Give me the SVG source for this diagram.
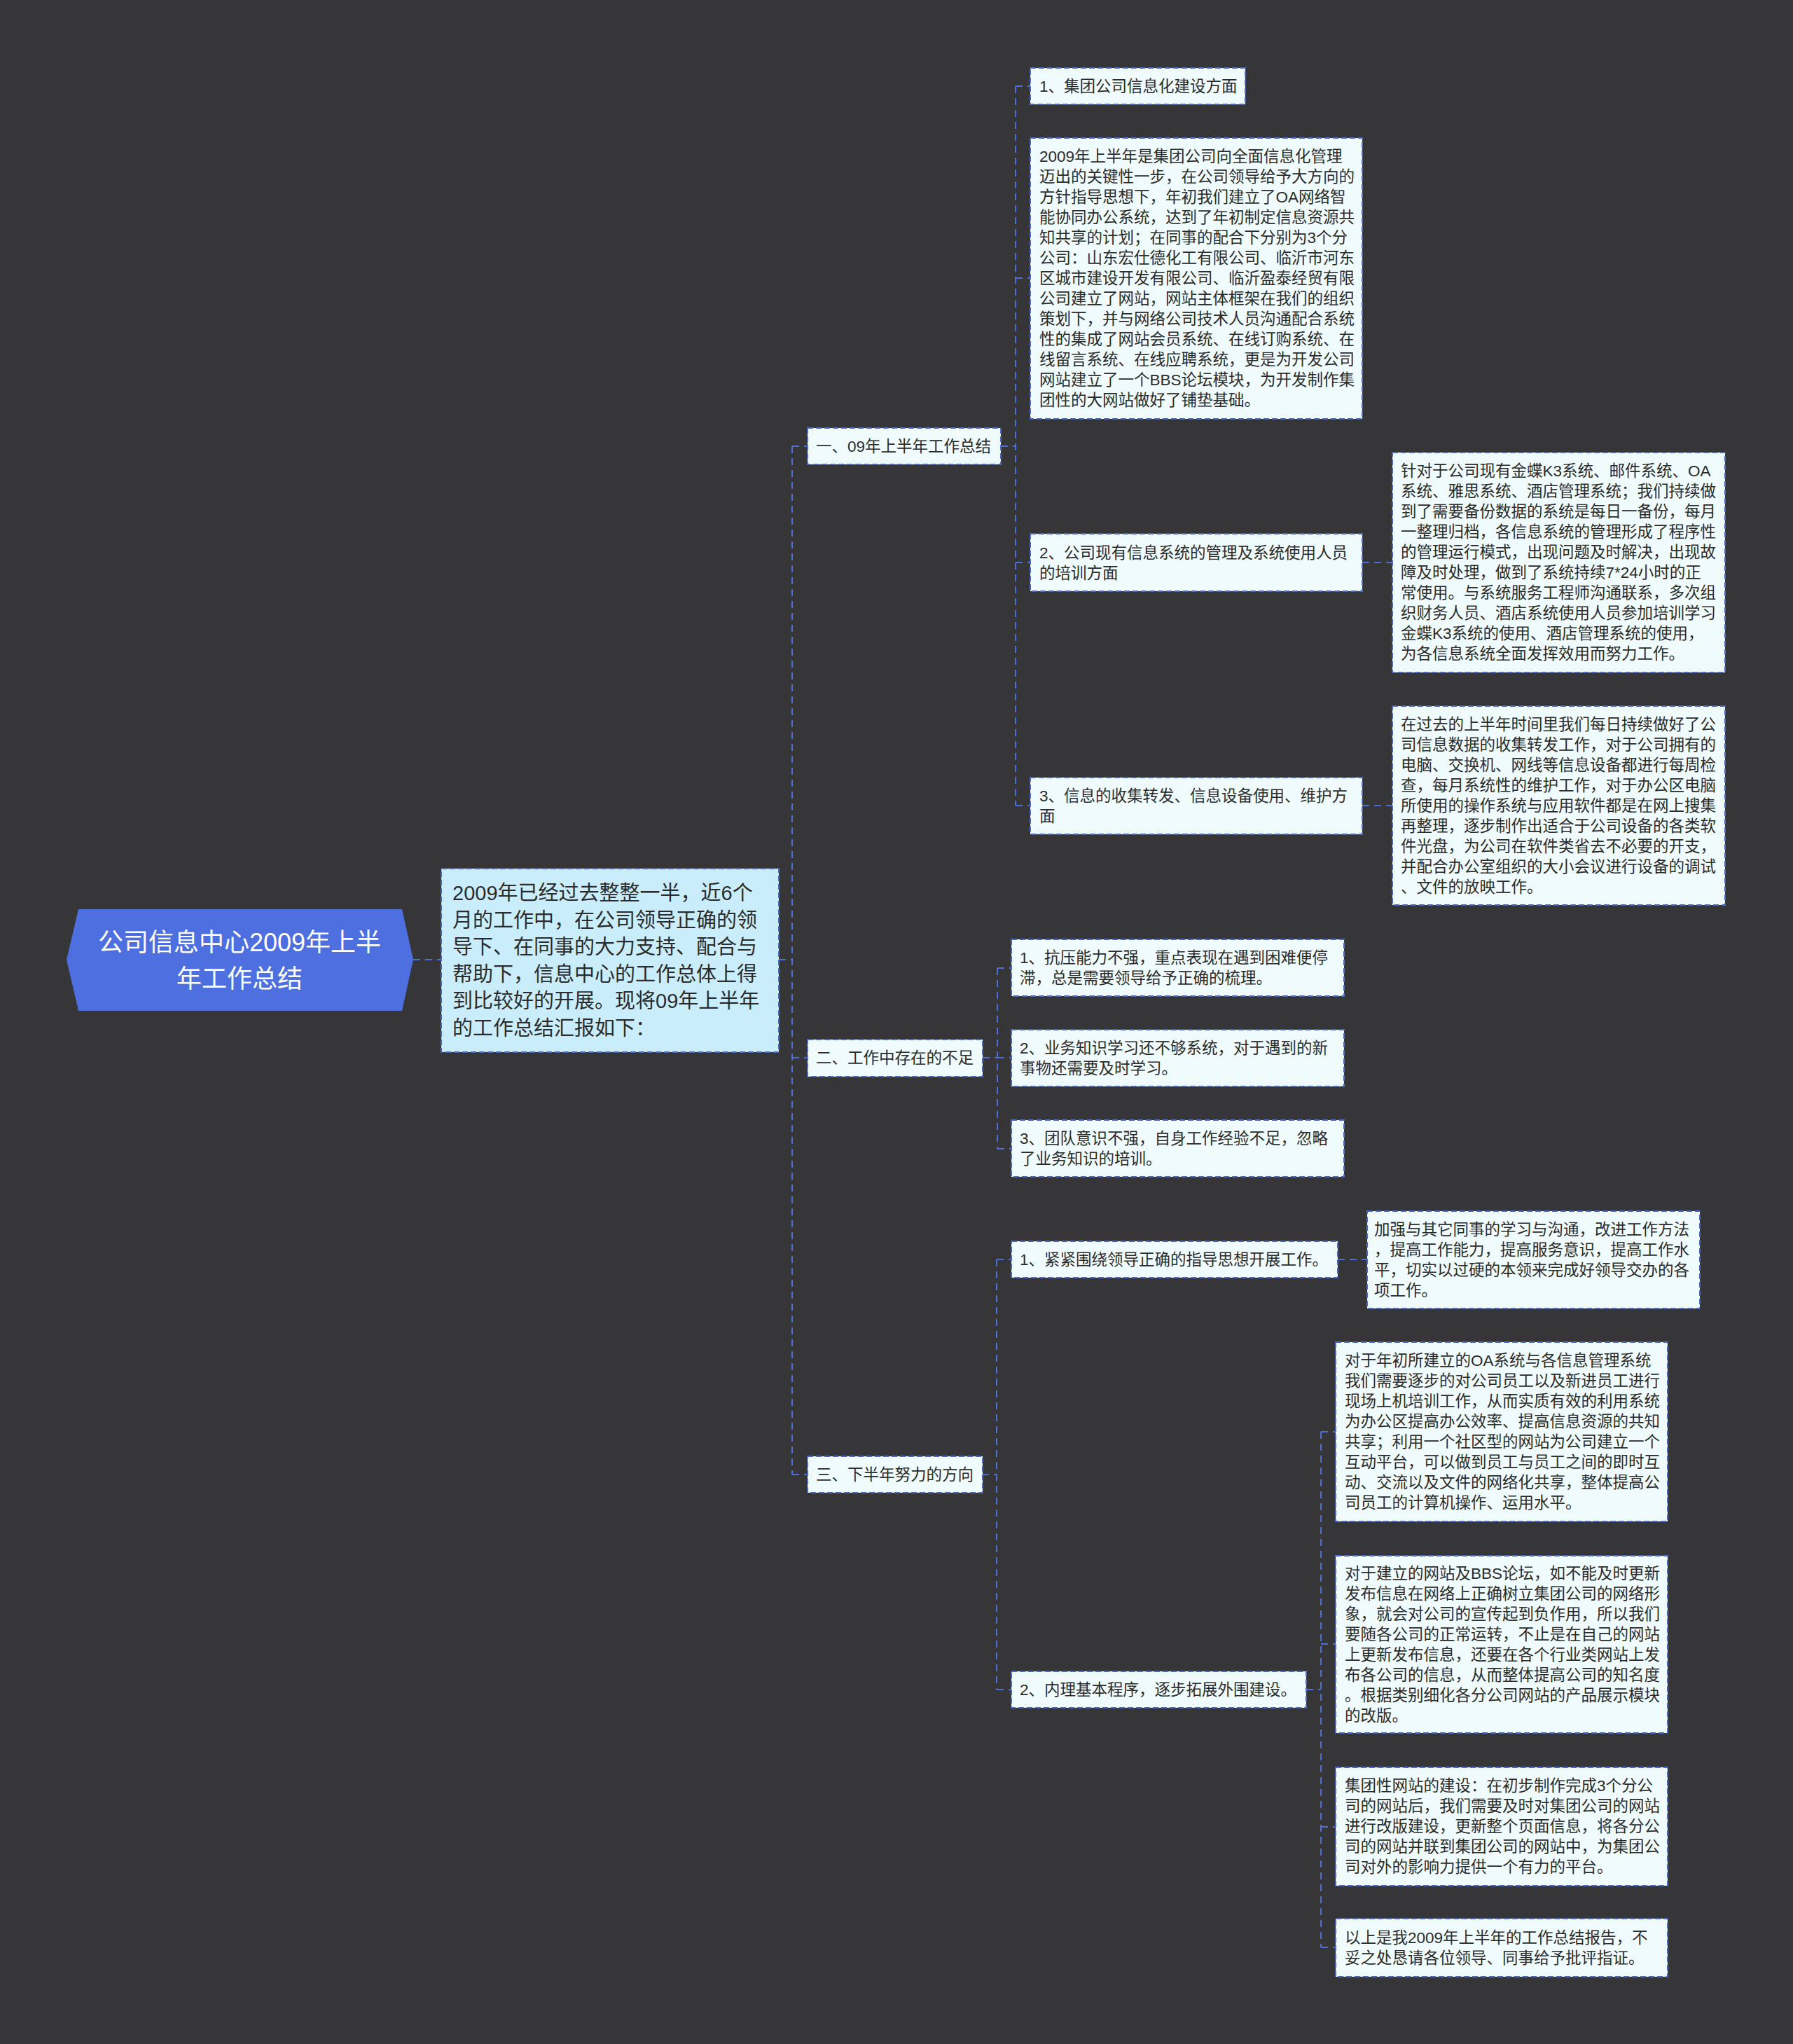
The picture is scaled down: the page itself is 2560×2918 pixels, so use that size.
<svg xmlns="http://www.w3.org/2000/svg" width="2560" height="2918" viewBox="0 0 2560 2918">
<style>
.bg{fill:#363538}
.root{fill:#4e6fe0}
.rt{font-family:"Liberation Sans","Noto Sans CJK SC",sans-serif;font-size:36px;fill:#ffffff;text-anchor:middle;dominant-baseline:central}
.intro{fill:#c9edfb;stroke:#4a68c4;stroke-width:2;stroke-dasharray:8 4}
.it{font-family:"Liberation Sans","Noto Sans CJK SC",sans-serif;font-size:29px;fill:#2b2b2b;dominant-baseline:central}
.box{fill:#effbfc;stroke:#4a68c4;stroke-width:2;stroke-dasharray:8 4}
.t{font-family:"Liberation Sans","Noto Sans CJK SC",sans-serif;font-size:22.5px;fill:#2b2b2b;dominant-baseline:central}
.c{fill:none;stroke:#4d6fd6;stroke-width:2;stroke-dasharray:10 7}
</style>
<rect class="bg" x="0" y="0" width="2560" height="2918"/>
<g id="connectors">
<path class="c" d="M590,1370 H630"/>
<path class="c" d="M1112,1370 H1131"/>
<path class="c" d="M1131,637 V2105"/>
<path class="c" d="M1131,637 H1153 M1131,1510 H1153 M1131,2105 H1153"/>
<path class="c" d="M1429,637 H1450 M1450,123 V1150 M1450,123 H1471 M1450,397 H1471 M1450,803 H1471 M1450,1150 H1471"/>
<path class="c" d="M1945,803 H1988 M1945,1150 H1988"/>
<path class="c" d="M1403,1510 H1424 M1424,1382 V1640 M1424,1382 H1444 M1424,1510 H1444 M1424,1640 H1444"/>
<path class="c" d="M1402,2105 H1423 M1423,1798 V2412 M1423,1798 H1444 M1423,2412 H1444"/>
<path class="c" d="M1910,1798 H1952"/>
<path class="c" d="M1865,2412 H1886 M1886,2044 V2780 M1886,2044 H1907 M1886,2347 H1907 M1886,2608 H1907 M1886,2780 H1907"/>
</g>
<g id="root">
<polygon class="root" points="95,1370 112,1298 574,1298 590,1370 574,1443 112,1443"/>
<text class="rt" x="342" y="1345">公司信息中心2009年上半</text>
<text class="rt" x="342" y="1397">年工作总结</text>
</g>
<g id="intro">
<rect class="intro" x="630" y="1240" width="482" height="262"/>
<text class="it" x="646" y="1275">2009年已经过去整整一半，近6个</text>
<text class="it" x="646" y="1313.6">月的工作中，在公司领导正确的领</text>
<text class="it" x="646" y="1352.2">导下、在同事的大力支持、配合与</text>
<text class="it" x="646" y="1390.8">帮助下，信息中心的工作总体上得</text>
<text class="it" x="646" y="1429.4">到比较好的开展。现将09年上半年</text>
<text class="it" x="646" y="1468">的工作总结汇报如下：</text>
</g>
<g id="n1">
<rect class="box" x="1153" y="611" width="276" height="52"/>
<text class="t" x="1165" y="637">一、09年上半年工作总结</text>
</g>
<g id="n1-1">
<rect class="box" x="1471" y="97" width="307" height="52"/>
<text class="t" x="1484" y="123">1、集团公司信息化建设方面</text>
</g>
<g id="n1-1-text">
<rect class="box" x="1471" y="197" width="474" height="401"/>
<text class="t" x="1484" y="223.5">2009年上半年是集团公司向全面信息化管理</text>
<text class="t" x="1484" y="252.5">迈出的关键性一步，在公司领导给予大方向的</text>
<text class="t" x="1484" y="281.5">方针指导思想下，年初我们建立了OA网络智</text>
<text class="t" x="1484" y="310.5">能协同办公系统，达到了年初制定信息资源共</text>
<text class="t" x="1484" y="339.5">知共享的计划；在同事的配合下分别为3个分</text>
<text class="t" x="1484" y="368.5">公司：山东宏仕德化工有限公司、临沂市河东</text>
<text class="t" x="1484" y="397.5">区城市建设开发有限公司、临沂盈泰经贸有限</text>
<text class="t" x="1484" y="426.5">公司建立了网站，网站主体框架在我们的组织</text>
<text class="t" x="1484" y="455.5">策划下，并与网络公司技术人员沟通配合系统</text>
<text class="t" x="1484" y="484.5">性的集成了网站会员系统、在线订购系统、在</text>
<text class="t" x="1484" y="513.5">线留言系统、在线应聘系统，更是为开发公司</text>
<text class="t" x="1484" y="542.5">网站建立了一个BBS论坛模块，为开发制作集</text>
<text class="t" x="1484" y="571.5">团性的大网站做好了铺垫基础。</text>
</g>
<g id="n1-2">
<rect class="box" x="1471" y="762" width="474" height="82"/>
<text class="t" x="1484" y="789">2、公司现有信息系统的管理及系统使用人员</text>
<text class="t" x="1484" y="818">的培训方面</text>
</g>
<g id="n1-2-text">
<rect class="box" x="1988" y="646" width="475" height="314"/>
<text class="t" x="2000" y="672.5">针对于公司现有金蝶K3系统、邮件系统、OA</text>
<text class="t" x="2000" y="701.5">系统、雅思系统、酒店管理系统；我们持续做</text>
<text class="t" x="2000" y="730.5">到了需要备份数据的系统是每日一备份，每月</text>
<text class="t" x="2000" y="759.5">一整理归档，各信息系统的管理形成了程序性</text>
<text class="t" x="2000" y="788.5">的管理运行模式，出现问题及时解决，出现故</text>
<text class="t" x="2000" y="817.5">障及时处理，做到了系统持续7*24小时的正</text>
<text class="t" x="2000" y="846.5">常使用。与系统服务工程师沟通联系，多次组</text>
<text class="t" x="2000" y="875.5">织财务人员、酒店系统使用人员参加培训学习</text>
<text class="t" x="2000" y="904.5">金蝶K3系统的使用、酒店管理系统的使用，</text>
<text class="t" x="2000" y="933.5">为各信息系统全面发挥效用而努力工作。</text>
</g>
<g id="n1-3">
<rect class="box" x="1471" y="1110" width="474" height="81"/>
<text class="t" x="1484" y="1136">3、信息的收集转发、信息设备使用、维护方</text>
<text class="t" x="1484" y="1165">面</text>
</g>
<g id="n1-3-text">
<rect class="box" x="1988" y="1008" width="475" height="284"/>
<text class="t" x="2000" y="1034">在过去的上半年时间里我们每日持续做好了公</text>
<text class="t" x="2000" y="1063">司信息数据的收集转发工作，对于公司拥有的</text>
<text class="t" x="2000" y="1092">电脑、交换机、网线等信息设备都进行每周检</text>
<text class="t" x="2000" y="1121">查，每月系统性的维护工作，对于办公区电脑</text>
<text class="t" x="2000" y="1150">所使用的操作系统与应用软件都是在网上搜集</text>
<text class="t" x="2000" y="1179">再整理，逐步制作出适合于公司设备的各类软</text>
<text class="t" x="2000" y="1208">件光盘，为公司在软件类省去不必要的开支，</text>
<text class="t" x="2000" y="1237">并配合办公室组织的大小会议进行设备的调试</text>
<text class="t" x="2000" y="1266">、文件的放映工作。</text>
</g>
<g id="n2">
<rect class="box" x="1153" y="1484" width="250" height="53"/>
<text class="t" x="1165" y="1510">二、工作中存在的不足</text>
</g>
<g id="n2-1">
<rect class="box" x="1444" y="1341" width="475" height="81"/>
<text class="t" x="1456" y="1367.5">1、抗压能力不强，重点表现在遇到困难便停</text>
<text class="t" x="1456" y="1396.5">滞，总是需要领导给予正确的梳理。</text>
</g>
<g id="n2-2">
<rect class="box" x="1444" y="1470" width="475" height="81"/>
<text class="t" x="1456" y="1496">2、业务知识学习还不够系统，对于遇到的新</text>
<text class="t" x="1456" y="1525">事物还需要及时学习。</text>
</g>
<g id="n2-3">
<rect class="box" x="1444" y="1599" width="475" height="81"/>
<text class="t" x="1456" y="1625.5">3、团队意识不强，自身工作经验不足，忽略</text>
<text class="t" x="1456" y="1654.5">了业务知识的培训。</text>
</g>
<g id="n3">
<rect class="box" x="1153" y="2079" width="250" height="52"/>
<text class="t" x="1165" y="2105">三、下半年努力的方向</text>
</g>
<g id="n3-1">
<rect class="box" x="1444" y="1772" width="466" height="52"/>
<text class="t" x="1456" y="1798">1、紧紧围绕领导正确的指导思想开展工作。</text>
</g>
<g id="n3-1-text">
<rect class="box" x="1952" y="1729" width="475" height="139"/>
<text class="t" x="1962" y="1755">加强与其它同事的学习与沟通，改进工作方法</text>
<text class="t" x="1962" y="1784">，提高工作能力，提高服务意识，提高工作水</text>
<text class="t" x="1962" y="1813">平，切实以过硬的本领来完成好领导交办的各</text>
<text class="t" x="1962" y="1842">项工作。</text>
</g>
<g id="n3-2">
<rect class="box" x="1444" y="2386" width="421" height="52"/>
<text class="t" x="1456" y="2412">2、内理基本程序，逐步拓展外围建设。</text>
</g>
<g id="n3-2-1">
<rect class="box" x="1907" y="1916" width="474" height="256"/>
<text class="t" x="1920" y="1942.5">对于年初所建立的OA系统与各信息管理系统</text>
<text class="t" x="1920" y="1971.5">我们需要逐步的对公司员工以及新进员工进行</text>
<text class="t" x="1920" y="2000.5">现场上机培训工作，从而实质有效的利用系统</text>
<text class="t" x="1920" y="2029.5">为办公区提高办公效率、提高信息资源的共知</text>
<text class="t" x="1920" y="2058.5">共享；利用一个社区型的网站为公司建立一个</text>
<text class="t" x="1920" y="2087.5">互动平台，可以做到员工与员工之间的即时互</text>
<text class="t" x="1920" y="2116.5">动、交流以及文件的网络化共享，整体提高公</text>
<text class="t" x="1920" y="2145.5">司员工的计算机操作、运用水平。</text>
</g>
<g id="n3-2-2">
<rect class="box" x="1907" y="2221" width="474" height="253"/>
<text class="t" x="1920" y="2246">对于建立的网站及BBS论坛，如不能及时更新</text>
<text class="t" x="1920" y="2275">发布信息在网络上正确树立集团公司的网络形</text>
<text class="t" x="1920" y="2304">象，就会对公司的宣传起到负作用，所以我们</text>
<text class="t" x="1920" y="2333">要随各公司的正常运转，不止是在自己的网站</text>
<text class="t" x="1920" y="2362">上更新发布信息，还要在各个行业类网站上发</text>
<text class="t" x="1920" y="2391">布各公司的信息，从而整体提高公司的知名度</text>
<text class="t" x="1920" y="2420">。根据类别细化各分公司网站的产品展示模块</text>
<text class="t" x="1920" y="2449">的改版。</text>
</g>
<g id="n3-2-3">
<rect class="box" x="1907" y="2523" width="474" height="169"/>
<text class="t" x="1920" y="2549.5">集团性网站的建设：在初步制作完成3个分公</text>
<text class="t" x="1920" y="2578.5">司的网站后，我们需要及时对集团公司的网站</text>
<text class="t" x="1920" y="2607.5">进行改版建设，更新整个页面信息，将各分公</text>
<text class="t" x="1920" y="2636.5">司的网站并联到集团公司的网站中，为集团公</text>
<text class="t" x="1920" y="2665.5">司对外的影响力提供一个有力的平台。</text>
</g>
<g id="n3-2-4">
<rect class="box" x="1907" y="2739" width="474" height="83"/>
<text class="t" x="1920" y="2766">以上是我2009年上半年的工作总结报告，不</text>
<text class="t" x="1920" y="2795">妥之处恳请各位领导、同事给予批评指证。</text>
</g>
</svg>
